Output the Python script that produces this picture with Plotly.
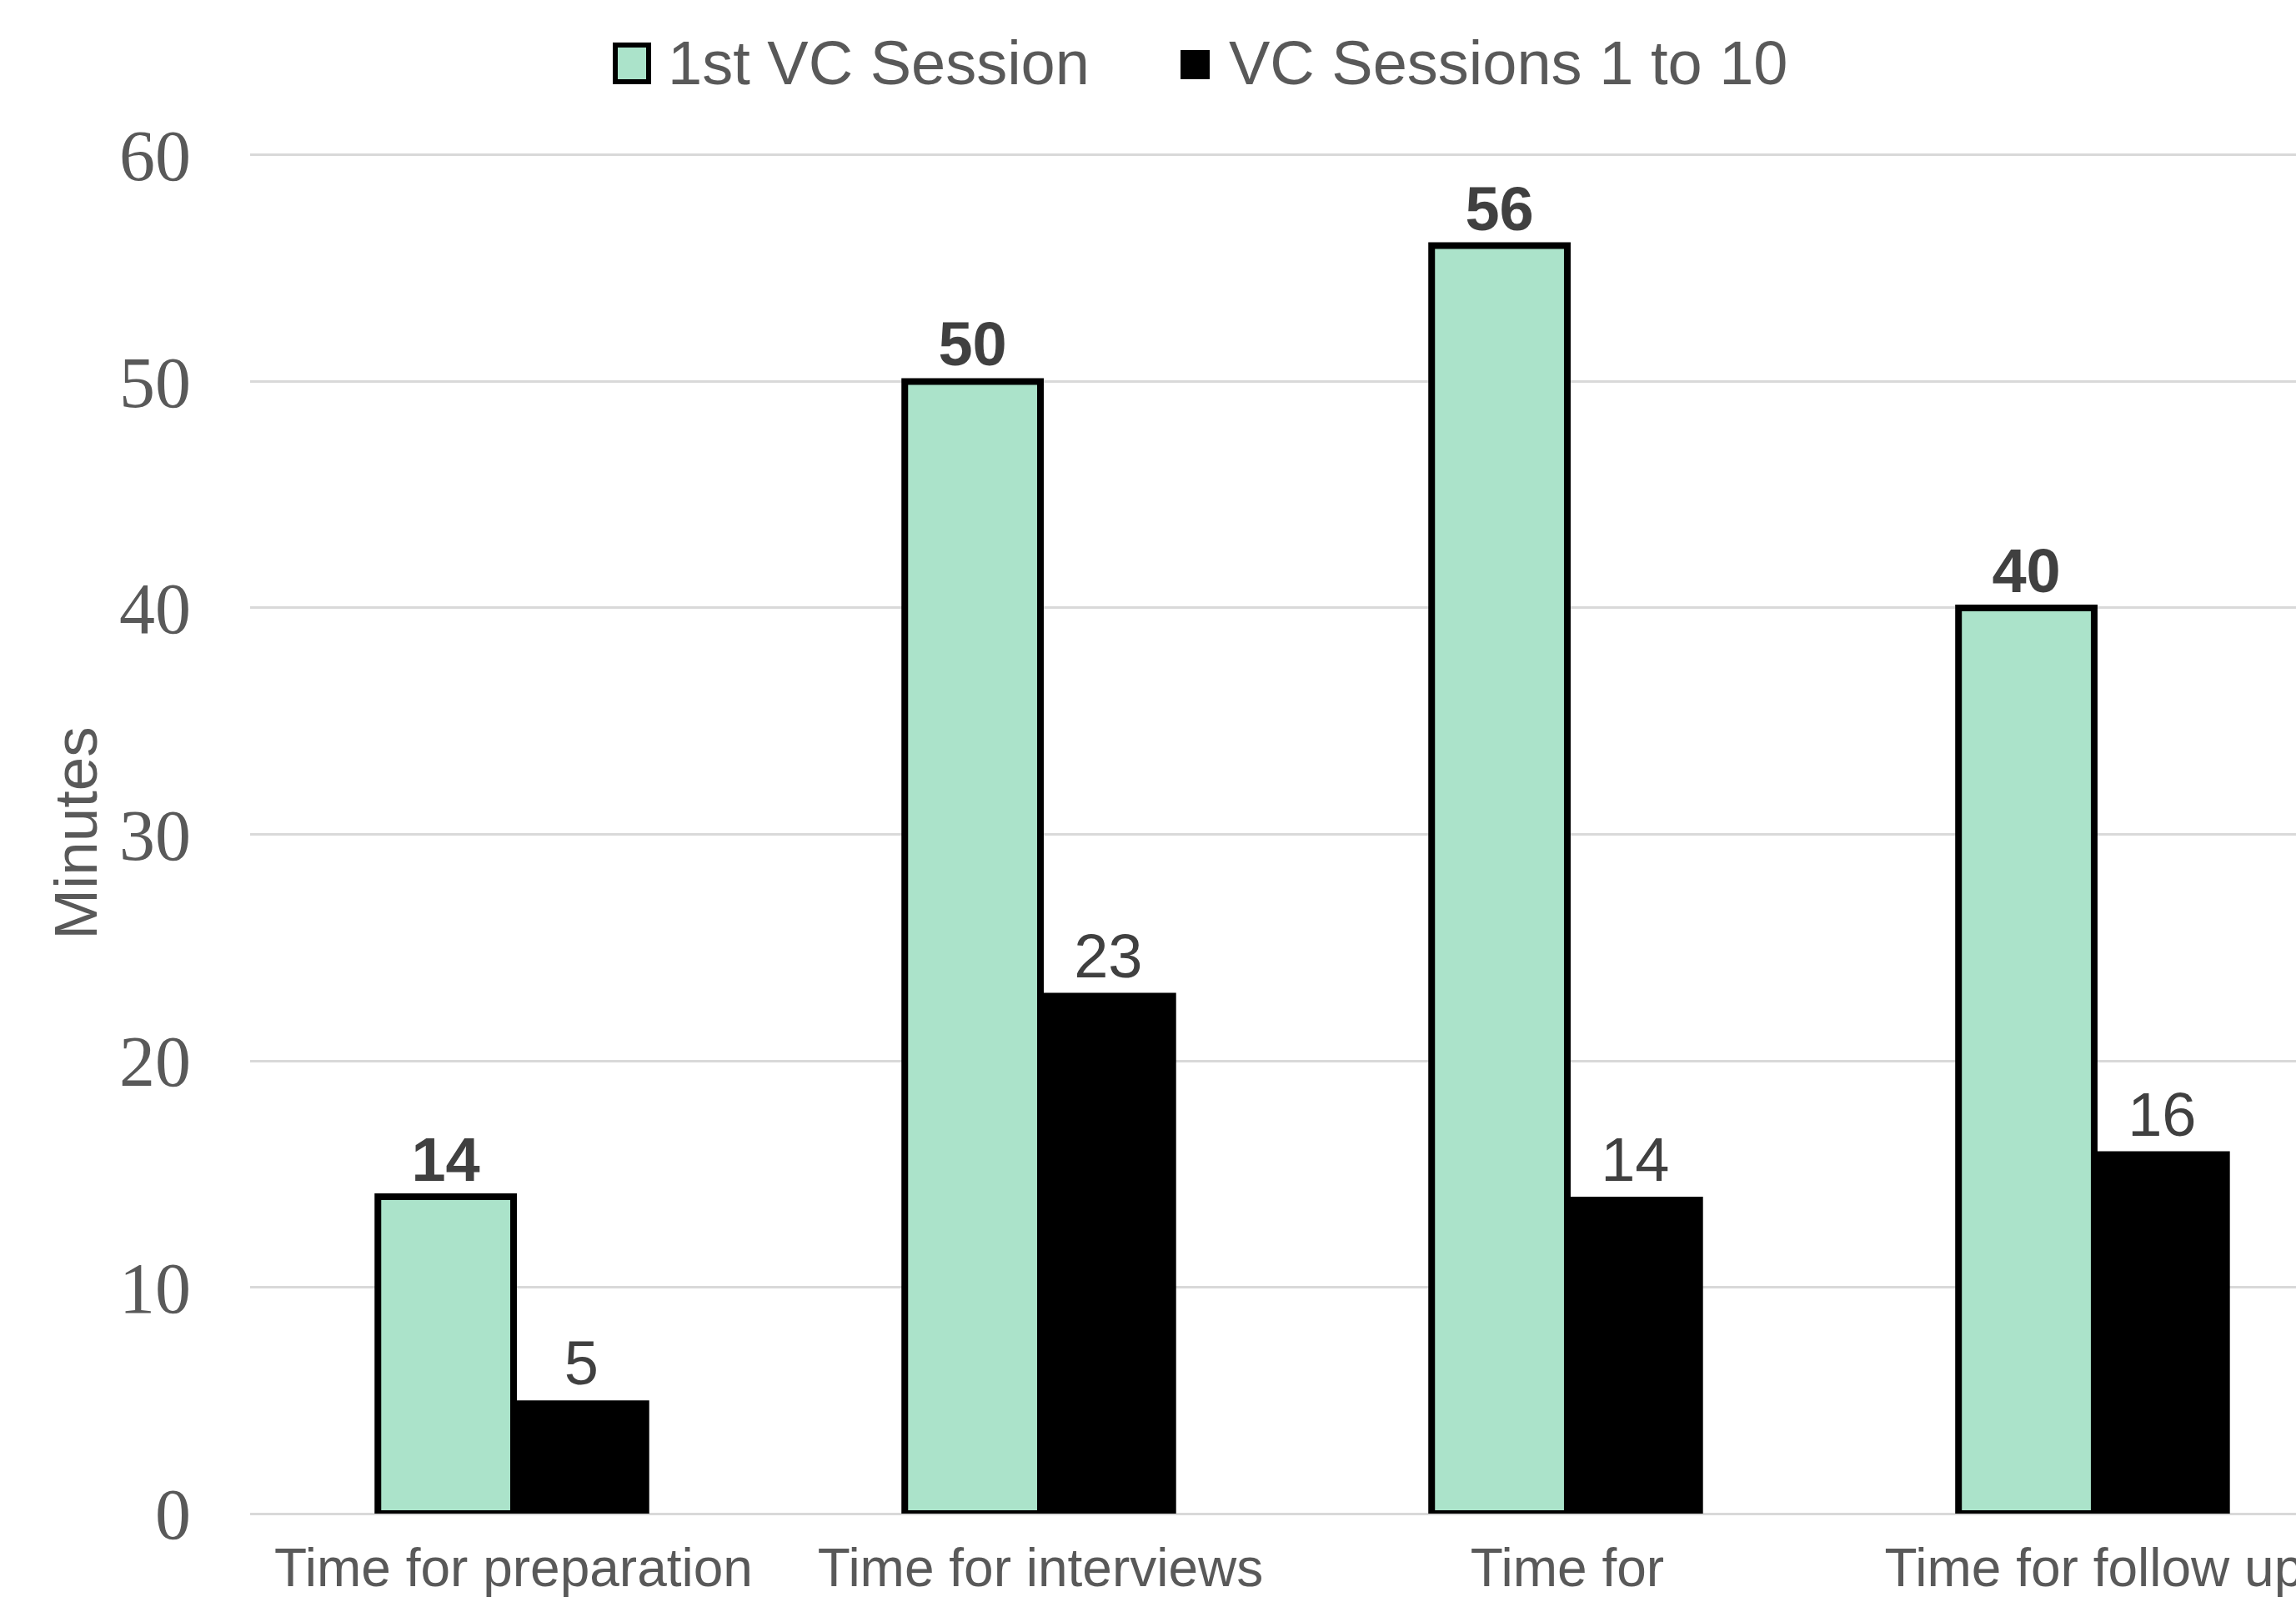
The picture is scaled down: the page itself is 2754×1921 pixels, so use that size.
import plotly.graph_objects as go

categories = ["Time for preparation", "Time for interviews", "Time for", "Time for follow up"]
series_names = ["1st VC Session", "VC Sessions 1 to 10"]
first_session = [14, 50, 56, 40]
sessions_1_to_10 = [5, 23, 14, 16]
y_ticks = [0, 10, 20, 30, 40, 50, 60]

GREEN = "#ABE3CA"
GRAY = "#595959"
LABEL = "#404040"
SANS = "Liberation Sans, Arial, sans-serif"
SERIF = "Liberation Serif, Times New Roman, serif"

W, H = 2754, 1921
ML, MR, MT, MB = 300, 0, 183, 106

fig = go.Figure()
fig.add_trace(go.Bar(
    x=categories, y=first_session, name=series_names[0],
    marker=dict(color=GREEN, line=dict(color="black", width=8)),
    texttemplate="<b>%{y}</b>", textposition="outside", cliponaxis=False,
    textfont=dict(family=SANS, size=74, color=LABEL),
    showlegend=False,
))
fig.add_trace(go.Bar(
    x=categories, y=sessions_1_to_10, name=series_names[1],
    marker=dict(color="black", line=dict(color="black", width=0)),
    texttemplate="%{y}", textposition="outside", cliponaxis=False,
    textfont=dict(family=SANS, size=74, color=LABEL),
    showlegend=False,
))

# Custom legend (large symbols like the original)
PW = W - ML - MR
PH = H - MT - MB
legend_items = [
    (series_names[0], GREEN, 6, 738, 778, 54, 98, 799),
    (series_names[1], "black", 0, 1416, 1451, 60, 95, 1472),
]
for name, col, lw, x0, x1, y0, y1, tx in legend_items:
    fig.add_shape(type="rect", xref="paper", yref="paper",
                  x0=(x0 - ML) / PW, x1=(x1 - ML) / PW,
                  y0=(H - MB - y1) / PH, y1=(H - MB - y0) / PH,
                  fillcolor=col, line=dict(color="black", width=lw))
    fig.add_annotation(xref="paper", yref="paper",
                       x=(tx - ML) / PW, y=(H - MB - 76) / PH,
                       text=name, showarrow=False, xanchor="left", yanchor="middle",
                       font=dict(family=SANS, size=74, color=GRAY))

fig.update_layout(
    width=W, height=H,
    margin=dict(l=ML, r=MR, t=MT, b=MB, autoexpand=False),
    paper_bgcolor="white", plot_bgcolor="white",
    barmode="group", bargap=0.485, bargroupgap=0,
    showlegend=False,
    xaxis=dict(range=[-0.5, 3.383], showgrid=False, zeroline=False, showline=False,
               tickfont=dict(family=SANS, size=64, color=GRAY),
               ticks="", ticklabelstandoff=22, automargin=False),
    yaxis=dict(range=[0, 60.11], tickvals=y_ticks, showgrid=True, gridcolor="#D9D9D9",
               gridwidth=3, zeroline=True, zerolinecolor="#D9D9D9", zerolinewidth=3,
               showline=False, ticks="",
               tickfont=dict(family=SERIF, size=86, color=GRAY),
               ticklabelstandoff=70, automargin=False,
               title=dict(text="Minutes", font=dict(family=SANS, size=73, color=GRAY),
                          standoff=2)),
)

fig.write_html("out.html")
